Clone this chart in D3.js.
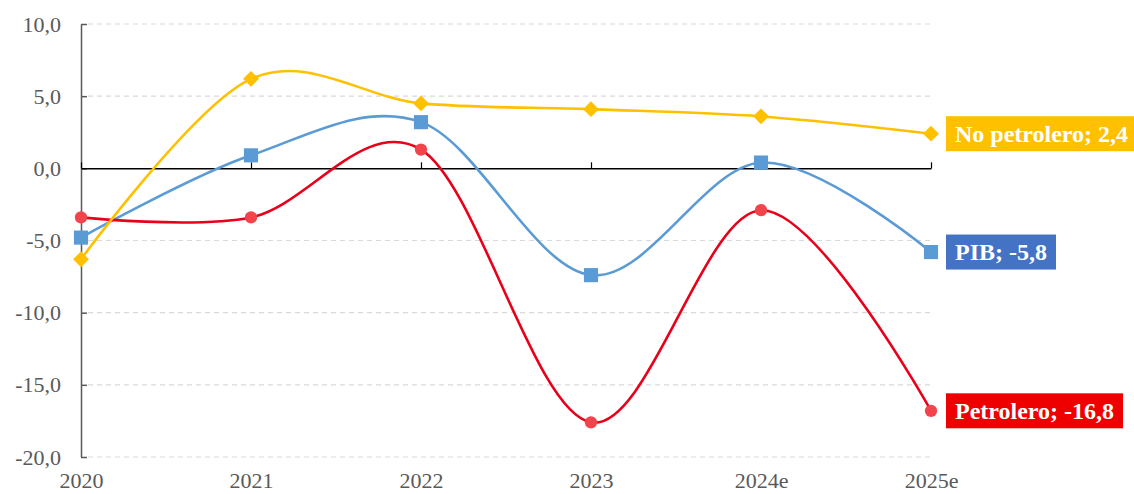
<!DOCTYPE html>
<html>
<head>
<meta charset="utf-8">
<script src="https://cdn.jsdelivr.net/npm/d3@7"></script>
<style>
  body { margin: 0; background: #fff; }
  text { font-family: "Liberation Serif", "Times New Roman", serif; }
</style>
</head>
<body>
<div id="chart"></div>
<script>
const years = ['2020', '2021', '2022', '2023', '2024e', '2025e'];
const pib = [-4.8, 0.9, 3.2, -7.4, 0.4, -5.8];
const petrolero = [-3.4, -3.4, 1.3, -17.6, -2.9, -16.8];
const noPetrolero = [-6.3, 6.2, 4.5, 4.1, 3.6, 2.4];
const yTicks = [10, 5, 0, -5, -10, -15, -20];

const series = [
  { name: 'PIB', values: pib, line: '#5B9BD5', mark: '#5B9BD5', box: '#4472C4', shape: 'square' },
  { name: 'Petrolero', values: petrolero, line: '#E8001A', mark: '#F2444C', box: '#EE0000', shape: 'circle' },
  { name: 'No petrolero', values: noPetrolero, line: '#FFC000', mark: '#FFC000', box: '#FFC000', shape: 'diamond' }
];

const W = 1134, H = 494;
// comma decimals, plain hyphen for negatives
const fmt = v => v.toFixed(1).replace('.', ',');

const svg = d3.select('#chart').append('svg')
    .attr('width', W)
    .attr('height', H);

const x = d3.scalePoint()
    .domain(years)
    .range([81, 931]);

const y = d3.scaleLinear()
    .domain([-20, 10])
    .range([457, 24]);

// dashed gridlines
svg.append('g')
  .selectAll('line')
  .data(yTicks.filter(d => d !== 0))
  .join('line')
    .attr('x1', 88)
    .attr('x2', 931)
    .attr('y1', d => y(d))
    .attr('y2', d => y(d))
    .attr('stroke', '#d9d9d9')
    .attr('stroke-width', 1.2)
    .attr('stroke-dasharray', '5,4');

// y axis, ticks pointing inward
const yAxis = svg.append('g')
    .attr('transform', 'translate(81,0)')
    .call(d3.axisLeft(y).tickValues(yTicks).tickFormat(fmt)
      .tickSizeInner(-6).tickSizeOuter(0).tickPadding(20));
yAxis.select('.domain').attr('stroke', '#595959').attr('stroke-width', 1.5);
yAxis.selectAll('.tick line').attr('stroke', '#595959').attr('stroke-width', 1.5);
yAxis.selectAll('text')
    .attr('fill', '#595959')
    .style('font-size', '22px');

// x axis on the zero line, labels at the bottom
const xAxis = svg.append('g')
    .attr('transform', `translate(0,${y(0)})`)
    .call(d3.axisBottom(x).tickSizeInner(-6).tickSizeOuter(0));
xAxis.select('.domain').attr('stroke', '#000').attr('stroke-width', 1.5);
xAxis.selectAll('.tick line').attr('stroke', '#000').attr('stroke-width', 1.2);
xAxis.selectAll('text')
    .attr('y', 488 - y(0))
    .attr('dy', null)
    .attr('fill', '#595959')
    .style('font-size', '22px');

const line = d3.line()
    .x((d, i) => x(years[i]))
    .y(d => y(d))
    .curve(d3.curveCatmullRom.alpha(0));

series.forEach(s => {
  const g = svg.append('g');
  g.append('path')
      .datum(s.values)
      .attr('d', line)
      .attr('fill', 'none')
      .attr('stroke', s.line)
      .attr('stroke-width', 2.6);

  const sym = s.shape === 'square' ? d3.symbolSquare
    : s.shape === 'circle' ? d3.symbolCircle : d3.symbolDiamond2;
  const size = s.shape === 'square' ? 200 : s.shape === 'circle' ? 120 : 160;
  g.selectAll('.pt')
    .data(s.values)
    .join('path')
      .attr('class', 'pt')
      .attr('transform', (d, i) => `translate(${x(years[i])},${y(d)})`)
      .attr('d', d3.symbol(sym, size))
      .attr('fill', s.mark);

  // end label
  const last = s.values.length - 1;
  const px = x(years[last]) + 15, py = y(s.values[last]);
  const lab = svg.append('g').attr('transform', `translate(${px},${py})`);
  const rect = lab.append('rect')
      .attr('y', -17.5)
      .attr('height', 35)
      .attr('fill', s.box);
  const t = lab.append('text')
      .attr('x', 9)
      .attr('dy', '0.35em')
      .attr('fill', '#fff')
      .style('font-size', '24px')
      .style('font-weight', 'bold')
      .text(`${s.name}; ${fmt(s.values[last])}`);
  rect.attr('width', t.node().getComputedTextLength() + 18);
});
</script>
</body>
</html>
